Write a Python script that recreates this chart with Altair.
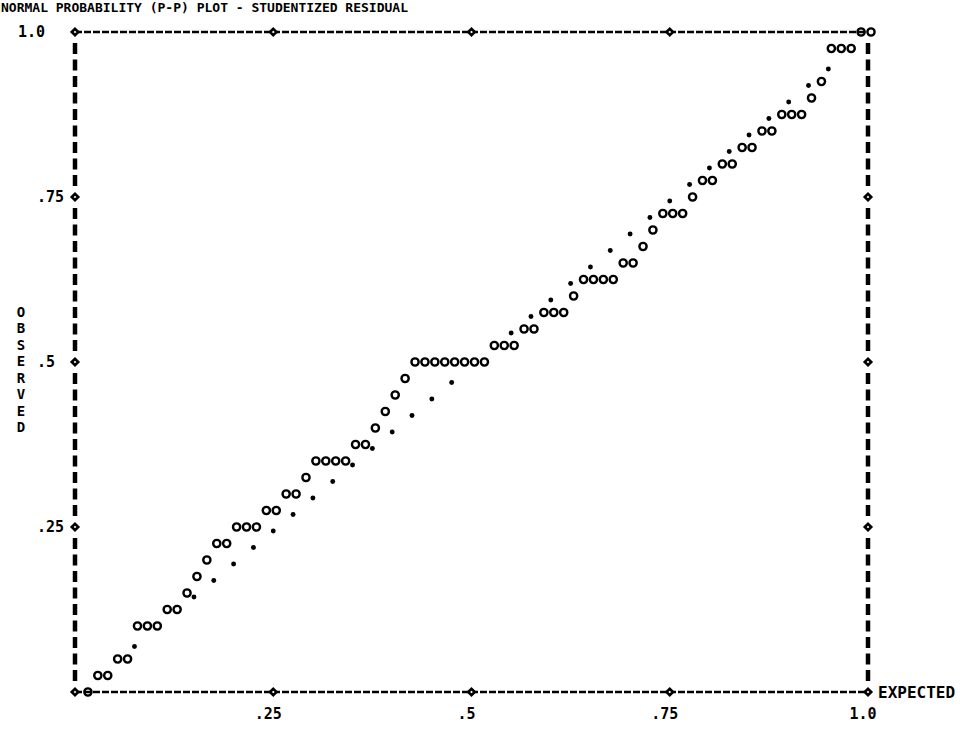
import altair as alt
import pandas as pd

# Printer-plot grid: 80 character columns across (expected 0..1), 40 lines up (observed 0..1)
N_COLS = 80
N_ROWS = 40

# line (0-40) on which the 'o' of each expected column 1..80 was printed
obs_rows = [0, 1, 1, 2, 2, 4, 4, 4, 5, 5, 6, 7, 8, 9, 9, 10, 10, 10, 11, 11,
            12, 12, 13, 14, 14, 14, 14, 15, 15, 16, 17, 18, 19,
            20, 20, 20, 20, 20, 20, 20, 20, 21, 21, 21, 22, 22, 23, 23, 23, 24,
            25, 25, 25, 25, 26, 26, 27, 28, 29, 29, 29, 30, 31, 31, 32, 32,
            33, 33, 34, 34, 35, 35, 35, 36, 37, 39, 39, 39, 40, 40]
obs_cols = list(range(1, N_COLS + 1))

# lines where the diagonal reference '.' is still visible (not overprinted by an 'o')
diag_rows = [3, 6, 7, 8, 9, 10, 11, 12, 13, 14, 15, 16, 17, 18, 19,
             22, 23, 24, 25, 26, 27, 28, 29, 30, 31, 32, 33, 34, 35, 36, 37, 38]

tick_values = [0.25, 0.5, 0.75, 1.0]
tick_labels = [".25", ".5", ".75", "1.0"]

TITLE = "NORMAL PROBABILITY (P-P) PLOT - STUDENTIZED RESIDUAL"
X_TITLE = "EXPECTED"
Y_TITLE = "OBSERVED"

W, H = 793, 660
ROW = H / N_ROWS
FONT = "DejaVu Sans Mono"

points = pd.DataFrame({
    "expected": [c / N_COLS for c in obs_cols],
    "observed": [r / N_ROWS for r in obs_rows],
})
diag = pd.DataFrame({
    "expected": [r / N_ROWS for r in diag_rows],
    "observed": [r / N_ROWS for r in diag_rows],
})

xs = alt.Scale(domain=[0, 1], nice=False, zero=False)
ys = alt.Scale(domain=[0, 1], nice=False, zero=False)
X = lambda f: alt.X(f, type="quantitative", scale=xs, axis=None)
Y = lambda f: alt.Y(f, type="quantitative", scale=ys, axis=None)

# frame: dashed top and bottom lines
hframe = pd.DataFrame({"y": [0.0, 1.0], "x": [0.0, 0.0], "x2": [1.0, 1.0]})
hlines = alt.Chart(hframe).mark_rule(strokeDash=[7, 2], strokeWidth=2.4, color="black").encode(
    x=X("x"), x2="x2", y=Y("y"))

# frame: columns of 'I' on left and right
side_rows = [r for r in range(1, N_ROWS) if r % 10 != 0]
sides = pd.DataFrame({
    "x": [0.0] * len(side_rows) + [1.0] * len(side_rows),
    "y": [r / N_ROWS for r in side_rows] * 2,
})
vlines = alt.Chart(sides).mark_tick(orient="vertical", size=11, thickness=4.5, color="black",
                                    opacity=1).encode(x=X("x"), y=Y("y"))

# '+' marks at the quarter points of the frame
dia_x = [0.0, 0.0, 0.0, 0.0, 0.0, 1.0, 1.0, 1.0, 1.0,
         0.25, 0.5, 0.75, 0.25, 0.5, 0.75]
dia_y = [0.0, 0.25, 0.5, 0.75, 1.0, 0.0, 0.25, 0.5, 0.75,
         0.0, 0.0, 0.0, 1.0, 1.0, 1.0]
dias = alt.Chart(pd.DataFrame({"x": dia_x, "y": dia_y})).mark_point(
    shape="diamond", filled=False, size=42, strokeWidth=2.6, color="black", fill="white",
    opacity=1).encode(x=X("x"), y=Y("y"))

obs = alt.Chart(points).mark_point(shape="circle", filled=False, size=52, strokeWidth=2.4,
                                   color="black", opacity=1, xOffset=3).encode(
    x=X("expected"), y=Y("observed"))

ref = alt.Chart(diag).mark_circle(size=24, color="black", opacity=1, yOffset=4).encode(
    x=X("expected"), y=Y("observed"))

ticks = pd.DataFrame({"v": tick_values, "label": tick_labels})
xlab = alt.Chart(ticks).mark_text(font=FONT, fontWeight="bold", fontSize=15, align="center",
                                  baseline="middle", color="black", dx=-5).encode(
    x=X("v"), y=alt.value(H + 22), text="label")
ylab = alt.Chart(ticks[ticks.v < 1]).mark_text(font=FONT, fontWeight="bold", fontSize=15, align="left",
                                               baseline="middle", color="black").encode(
    x=alt.value(-38), y=Y("v"), text="label")
ylab_top = alt.Chart(ticks[ticks.v == 1]).mark_text(font=FONT, fontWeight="bold", fontSize=15,
                                                    align="left", baseline="middle", color="black").encode(
    x=alt.value(-57), y=Y("v"), text="label")

title = alt.Chart(pd.DataFrame({"t": [0]})).mark_text(
    font=FONT, fontWeight="bold", fontSize=13, align="left", baseline="middle", color="black").encode(
    x=alt.value(-74), y=alt.value(-24), text=alt.value(TITLE))
xtitle = alt.Chart(pd.DataFrame({"t": [0]})).mark_text(
    font=FONT, fontWeight="bold", fontSize=16, align="left", baseline="middle", color="black").encode(
    x=alt.value(W + 10), y=alt.value(H + 1), text=alt.value(X_TITLE))
# vertical axis title, one letter per printer line, from line 23 down to line 16
ytitle = alt.Chart(pd.DataFrame({"t": [0]})).mark_text(
    font=FONT, fontWeight="bold", fontSize=14, align="center", baseline="middle", color="black",
    lineHeight=ROW).encode(
    x=alt.value(-54), y=alt.value(H - 23 * ROW), text=alt.value(list(Y_TITLE)))

chart = alt.layer(hlines, vlines, dias, ref, obs, xlab, ylab, ylab_top,
                  title, xtitle, ytitle).properties(
    width=W, height=H,
    autosize=alt.AutoSizeParams(type="none"),
    padding={"left": 75, "top": 32, "right": 104, "bottom": 50},
    background="white",
).configure_view(stroke=None)

chart.save("out.html", embed_options={"renderer": "svg", "actions": False})
